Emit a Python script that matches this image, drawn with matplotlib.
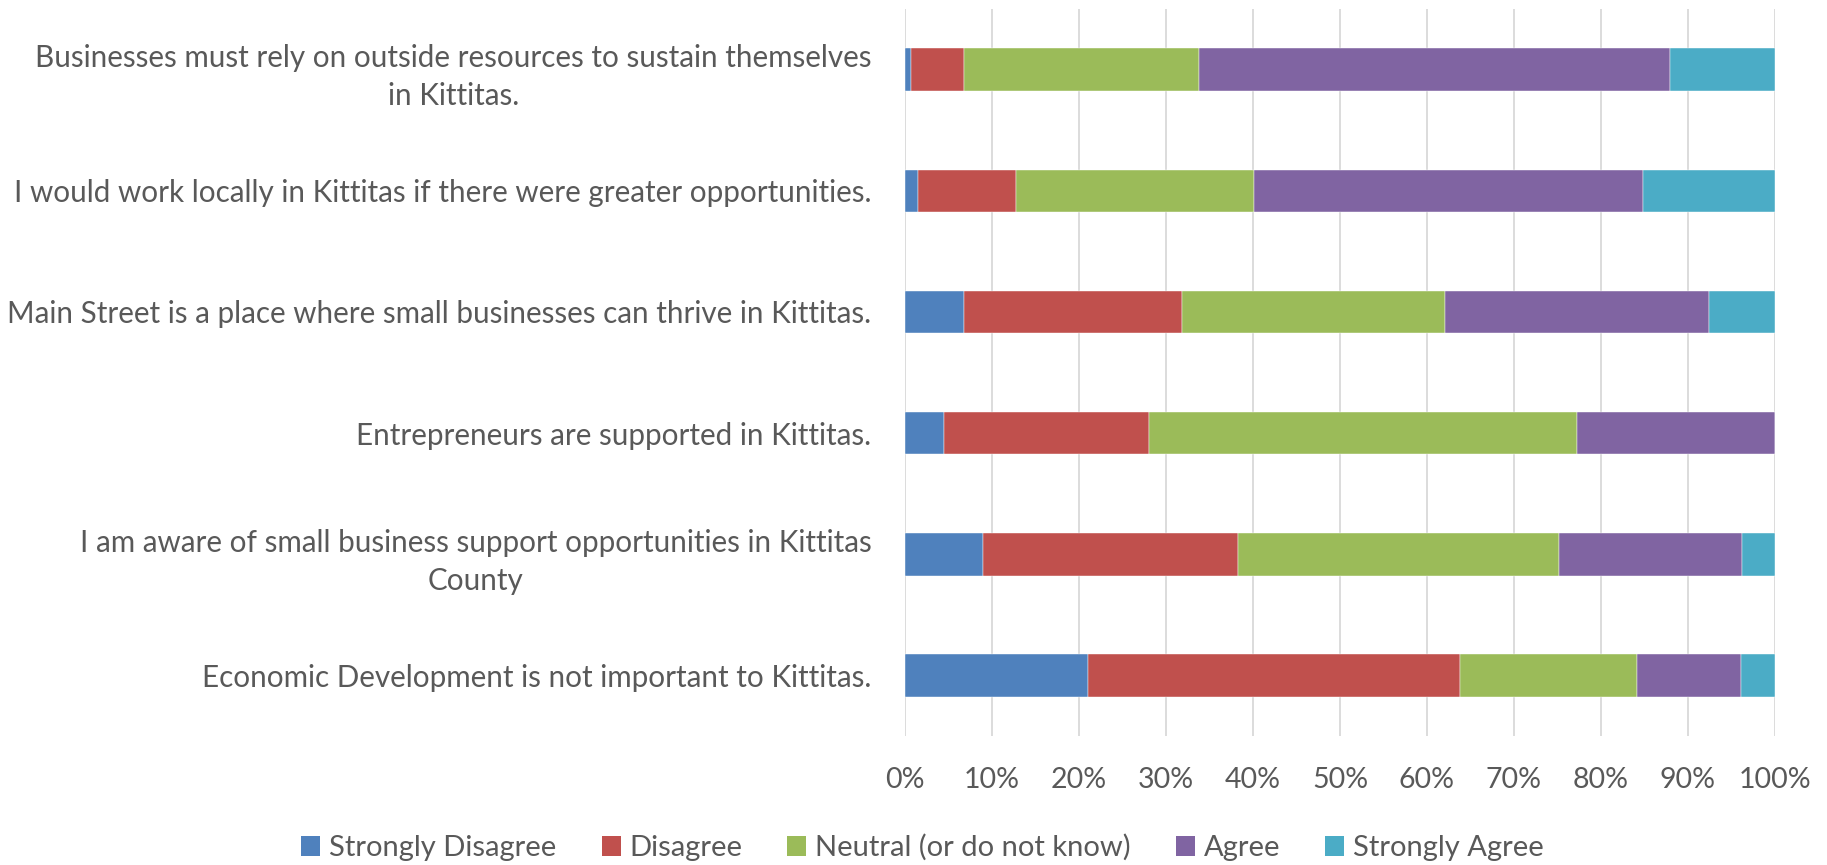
import numpy as np
import matplotlib

matplotlib.use("Agg")
import matplotlib.pyplot as plt
from matplotlib.patches import Patch

# Survey statements, top to bottom
statements = [
    "Businesses must rely on outside resources to sustain themselves\nin Kittitas.",
    "I would work locally in Kittitas if there were greater opportunities.",
    "Main Street is a place where small businesses can thrive in Kittitas.",
    "Entrepreneurs are supported in Kittitas.",
    "I am aware of small business support opportunities in Kittitas\nCounty",
    "Economic Development is not important to Kittitas.",
]

responses = ["Strongly Disagree", "Disagree", "Neutral (or do not know)", "Agree", "Strongly Agree"]

# Share of respondents (%) per statement
strongly_disagree = [0.7, 1.5, 6.8, 4.5, 9.0, 21.0]
disagree = [6.1, 11.3, 25.0, 23.5, 29.3, 42.8]
neutral = [27.0, 27.3, 30.3, 49.3, 36.9, 20.3]
agree = [54.1, 44.7, 30.3, 22.7, 21.0, 12.0]
strongly_agree = [12.1, 15.2, 7.6, 0.0, 3.8, 3.9]

colors = ["#4F81BD", "#C0504D", "#9BBB59", "#8064A2", "#4BACC6"]
TEXT = "#595959"
FONT = "Lato"

plt.rcParams["font.family"] = [FONT, "DejaVu Sans"]

fig = plt.figure(figsize=(18.27, 8.65), dpi=100)
ax = fig.add_axes([0.4953, 0.149, 0.4762, 0.8406])

series = [strongly_disagree, disagree, neutral, agree, strongly_agree]
y = np.arange(len(statements))
left = np.zeros(len(statements))
for vals, color, name in zip(series, colors, responses):
    vals = np.array(vals)
    ax.barh(y, vals, left=left, height=0.35, color=color, label=name,
            edgecolor="white", linewidth=0.3)
    left += vals

ax.set_xlim(0, 100)
ax.set_ylim(len(statements) - 0.5, -0.5)
ax.set_xticks(np.arange(0, 101, 10))
ax.set_xticklabels([f"{v}%" for v in range(0, 101, 10)], fontsize=20.5)
ax.set_yticks(y)
ax.set_yticklabels(statements, multialignment="center", linespacing=1.45, fontsize=21.3)

ax.grid(axis="x", color="#D9D9D9", linewidth=1.3)
ax.set_axisbelow(True)
for s in ax.spines.values():
    s.set_visible(False)
ax.tick_params(axis="both", length=0, colors=TEXT)
ax.tick_params(axis="y", pad=24)
ax.tick_params(axis="x", pad=22)

handles = [Patch(facecolor=c, label=n) for c, n in zip(colors, responses)]
fig.legend(handles=handles, loc="center", bbox_to_anchor=(0.505, 0.02), ncol=5,
           frameon=False, fontsize=21, labelcolor=TEXT,
           handlelength=0.65, handleheight=0.65, handletextpad=0.3, columnspacing=1.55)

fig.savefig("out.png", dpi=100)
